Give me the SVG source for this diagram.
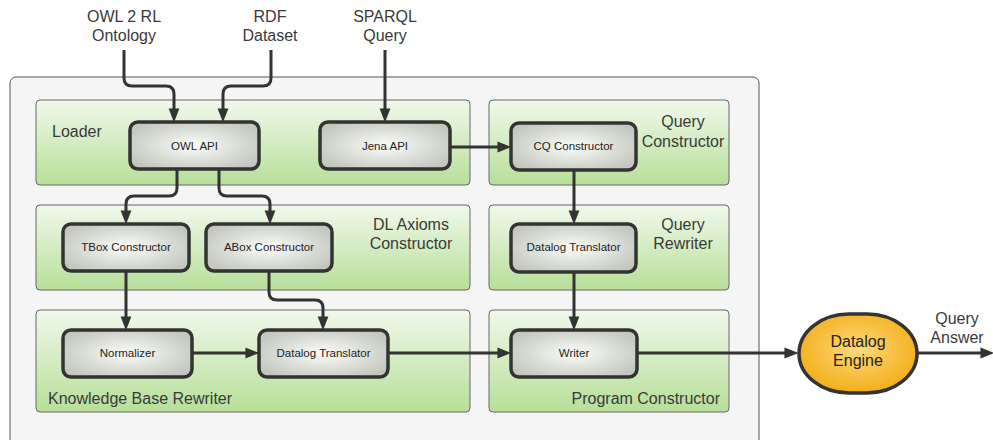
<svg xmlns="http://www.w3.org/2000/svg" width="993" height="440" viewBox="0 0 993 440">
<defs>
<linearGradient id="gPanel" x1="0" y1="0" x2="0" y2="1">
<stop offset="0" stop-color="#f1f8ec"/>
<stop offset="1" stop-color="#b7df98"/>
</linearGradient>
<radialGradient id="gNode" cx="0.5" cy="0.5" r="0.6">
<stop offset="0" stop-color="#fbfcf9"/>
<stop offset="1" stop-color="#c2c6bd"/>
</radialGradient>
<radialGradient id="gEngine" cx="0.5" cy="0.45" r="0.6">
<stop offset="0" stop-color="#fdd97a"/>
<stop offset="1" stop-color="#f2ab12"/>
</radialGradient>
<marker id="arr" markerUnits="userSpaceOnUse" markerWidth="14" markerHeight="12" viewBox="0 0 13 10" refX="7" refY="5" orient="auto">
<path d="M0,0 L13,5 L0,10 z" fill="#333"/>
</marker>
<style>
.panel{fill:url(#gPanel);stroke:#666;stroke-width:1}
.node{fill:url(#gNode);stroke:#333;stroke-width:3.5}
.nt{font-family:"Liberation Sans",Arial,sans-serif;font-size:11.5px;fill:#222;text-anchor:middle}
.pt{font-family:"Liberation Sans",Arial,sans-serif;font-size:16px;fill:#3a3a3a}
.lt{font-family:"Liberation Sans",Arial,sans-serif;font-size:16px;fill:#3a3a3a;text-anchor:middle}
.c{fill:none;stroke:#333;stroke-width:3;marker-end:url(#arr)}
</style>
</defs>
<rect x="0" y="0" width="993" height="440" fill="#ffffff"/>
<rect id="system" x="10" y="77" width="749" height="380" rx="6" fill="#f5f5f5" stroke="#555" stroke-width="1"/>

<g id="panel-loader"><rect class="panel" x="36" y="100" width="434" height="85" rx="4"/><text class="pt" x="52" y="137">Loader</text></g>
<g id="panel-query-constructor"><rect class="panel" x="489" y="100" width="240" height="85" rx="4"/><text class="pt" x="683" y="127" text-anchor="middle">Query</text><text class="pt" x="683" y="146.5" text-anchor="middle">Constructor</text></g>
<g id="panel-dl-axioms"><rect class="panel" x="36" y="205" width="434" height="85" rx="4"/><text class="pt" x="411" y="230" text-anchor="middle">DL Axioms</text><text class="pt" x="411" y="249" text-anchor="middle">Constructor</text></g>
<g id="panel-query-rewriter"><rect class="panel" x="489" y="205" width="240" height="85" rx="4"/><text class="pt" x="683" y="230" text-anchor="middle">Query</text><text class="pt" x="683" y="249" text-anchor="middle">Rewriter</text></g>
<g id="panel-kb-rewriter"><rect class="panel" x="36" y="310" width="434" height="102" rx="4"/><text class="pt" x="48" y="404">Knowledge Base Rewriter</text></g>
<g id="panel-program-constructor"><rect class="panel" x="489" y="310" width="240" height="102" rx="4"/><text class="pt" x="720" y="404" text-anchor="end">Program Constructor</text></g>

<g id="connectors">
<path class="c" d="M124,50 V78 Q124,86 132,86 H166 Q174,86 174,94 V116"/>
<path class="c" d="M271,50 V78 Q271,86 263,86 H231 Q223,86 223,94 V116"/>
<path class="c" d="M385,50 V116"/>
<path class="c" d="M450,147 H505"/>
<path class="c" d="M177,169 V188 Q177,196 169,196 H134 Q126,196 126,204 V218"/>
<path class="c" d="M219,169 V188 Q219,196 227,196 H262 Q270,196 270,204 V218"/>
<path class="c" d="M126,271 V324"/>
<path class="c" d="M269,271 V292 Q269,300 277,300 H315 Q323,300 323,308 V324"/>
<path class="c" d="M192,353 H253"/>
<path class="c" d="M388,353 H505"/>
<path class="c" d="M574,170 V218"/>
<path class="c" d="M574,272 V324"/>
<path class="c" d="M637,353 H792"/>
<path class="c" d="M917,353 H988"/>
</g>

<g id="owl-api"><rect class="node" x="130" y="122" width="129" height="47" rx="8"/><text class="nt" x="194.5" y="149.5">OWL API</text></g>
<g id="jena-api"><rect class="node" x="320" y="122" width="130" height="47" rx="8"/><text class="nt" x="385" y="149.5">Jena API</text></g>
<g id="cq-constructor"><rect class="node" x="511" y="123" width="125" height="47" rx="8"/><text class="nt" x="573.5" y="150">CQ Constructor</text></g>
<g id="tbox-constructor"><rect class="node" x="63" y="224" width="126" height="47" rx="8"/><text class="nt" x="126" y="251">TBox Constructor</text></g>
<g id="abox-constructor"><rect class="node" x="206" y="224" width="126" height="47" rx="8"/><text class="nt" x="269" y="251">ABox Constructor</text></g>
<g id="query-datalog-translator"><rect class="node" x="511" y="224" width="125" height="48" rx="8"/><text class="nt" x="573.5" y="251">Datalog Translator</text></g>
<g id="normalizer"><rect class="node" x="63" y="330" width="129" height="47" rx="8"/><text class="nt" x="127.5" y="356.5">Normalizer</text></g>
<g id="kb-datalog-translator"><rect class="node" x="259" y="330" width="129" height="47" rx="8"/><text class="nt" x="323.5" y="356.5">Datalog Translator</text></g>
<g id="writer"><rect class="node" x="511" y="330" width="126" height="47" rx="8"/><text class="nt" x="574" y="356.5">Writer</text></g>
<g id="datalog-engine"><rect x="799" y="314" width="118" height="79" rx="50" ry="40" fill="url(#gEngine)" stroke="#333" stroke-width="3.5"/><text class="lt" x="858" y="347" style="fill:#222">Datalog</text><text class="lt" x="858" y="366" style="fill:#222">Engine</text></g>

<g id="labels">
<text class="lt" x="124" y="22">OWL 2 RL</text><text class="lt" x="124" y="41">Ontology</text>
<text class="lt" x="270" y="22">RDF</text><text class="lt" x="270" y="41">Dataset</text>
<text class="lt" x="385" y="22">SPARQL</text><text class="lt" x="385" y="41">Query</text>
<text class="lt" x="957" y="324">Query</text><text class="lt" x="957" y="343">Answer</text>
</g>
</svg>
